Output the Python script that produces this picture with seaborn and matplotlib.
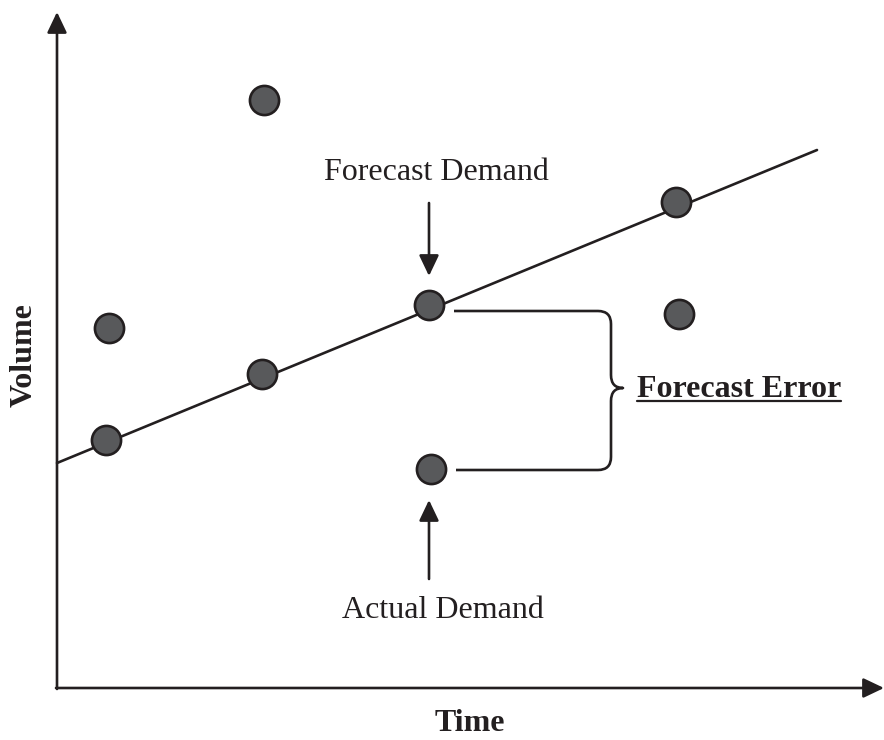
import matplotlib.pyplot as plt
from matplotlib.path import Path
from matplotlib.patches import PathPatch
import numpy as np
import seaborn as sns

# observed demand points (time, volume), origin at the axes corner
time_pts = [49, 52, 207, 205, 372, 374, 619, 622]
volume_pts = [248, 360, 588, 314, 383, 219, 486, 374]

# forecast trend line
trend_time = [0, 760]
trend_volume = [225, 538]

label_forecast = 'Forecast Demand'
label_actual = 'Actual Demand'
label_error = 'Forecast Error'
x_label = 'Time'
y_label = 'Volume'

ink = '#231f20'
dot = '#58595b'

sns.set_theme(style='white')
plt.rcParams['font.family'] = ['Liberation Serif', 'DejaVu Serif']

fig = plt.figure(figsize=(8.84, 7.4), dpi=100)
ax = fig.add_axes([0, 0, 1, 1])
ax.set_xlim(-57, 827)
ax.set_ylim(-52, 688)
ax.axis('off')


def px(x, y):
    # convert picture pixels to data units
    return x - 57, 688 - y


# axes with arrow heads
head = dict(arrowstyle='-|>,head_length=0.42,head_width=0.2', color=ink,
            lw=1.9, shrinkA=0, shrinkB=0, mutation_scale=30)
ax.annotate('', xy=px(57, 12), xytext=px(57, 689), arrowprops=head)
ax.annotate('', xy=px(884, 688), xytext=px(56, 688), arrowprops=head)

# trend line and demand points
sns.lineplot(x=trend_time, y=trend_volume, color=ink, lw=1.9, ax=ax, zorder=2)
sns.scatterplot(x=time_pts, y=volume_pts, s=440, color=dot, edgecolor=ink,
                linewidth=1.9, ax=ax, zorder=3)

# annotation arrows
ax.annotate('', xy=px(429, 276), xytext=px(429, 203), arrowprops=head)
ax.annotate('', xy=px(429, 500), xytext=px(429, 579), arrowprops=head)

ax.text(*px(436, 180), label_forecast, ha='center', va='baseline', fontsize=23, color=ink)
ax.text(*px(443, 618), label_actual, ha='center', va='baseline', fontsize=23, color=ink)

# curly brace between forecast and actual
brace_px = [
    (454, 311), (598, 311), (611, 311), (611, 324),
    (611, 375), (611, 388), (623, 388),
    (611, 388), (611, 401),
    (611, 457), (611, 470), (598, 470), (456, 470),
]
codes = [Path.MOVETO, Path.LINETO, Path.CURVE3, Path.CURVE3,
         Path.LINETO, Path.CURVE3, Path.CURVE3,
         Path.CURVE3, Path.CURVE3,
         Path.LINETO, Path.CURVE3, Path.CURVE3, Path.LINETO]
brace = Path([px(x, y) for x, y in brace_px], codes)
ax.add_patch(PathPatch(brace, fill=False, edgecolor=ink, lw=1.9,
                       joinstyle='round', capstyle='butt'))

ax.text(*px(637, 397), label_error, ha='left', va='baseline', fontsize=23,
        fontweight='bold', color=ink)
ux0, uy = px(637, 401)
ux1, _ = px(841, 401)
ax.plot([ux0, ux1], [uy, uy], color=ink, lw=1.6)

ax.text(*px(470, 731), x_label, ha='center', va='baseline', fontsize=23,
        fontweight='bold', color=ink)
ax.text(*px(24, 355), y_label, ha='center', va='center', rotation=90,
        fontsize=23, fontweight='bold', color=ink)

fig.savefig('out.png', dpi=100)
plt.close()
